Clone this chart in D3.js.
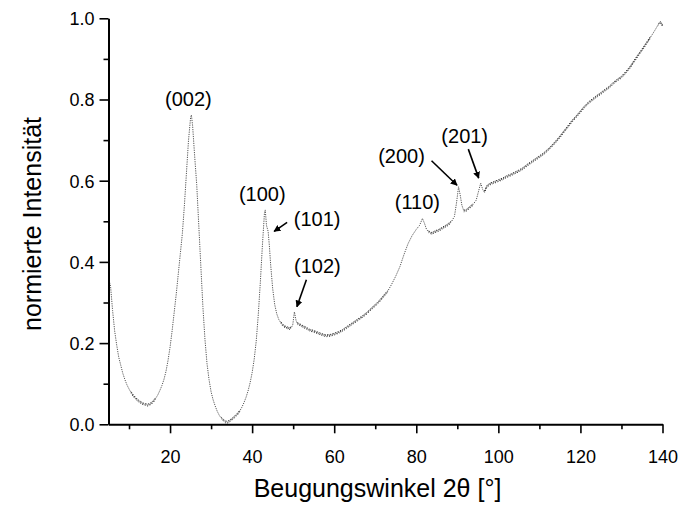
<!DOCTYPE html>
<html>
<head>
<meta charset="utf-8">
<script src="https://cdn.jsdelivr.net/npm/d3@7/dist/d3.min.js"></script>
<style>
  body { margin: 0; background: #fff; }
  text { font-family: "Liberation Sans", Arial, sans-serif; fill: #000; }
</style>
</head>
<body>
<div id="chart"></div>
<script>
// diffraction angle 2theta (deg) and normalised intensity
var angle = [
  5.0, 5.5, 6.0, 6.5, 7.0, 7.5, 8.0, 8.5, 9.0, 9.5, 10.0, 10.5, 11.0, 11.5, 12.0, 12.5, 13.0, 13.5, 14.0, 14.5,
  15.0, 15.5, 16.0, 16.5, 17.0, 17.5, 18.0, 18.5, 19.0, 19.5, 20.0, 20.5, 21.0, 21.5, 22.0, 22.5, 23.0, 23.5, 24.0, 24.5,
  25.0, 25.2, 25.5, 26.0, 26.5, 27.0, 27.5, 28.0, 28.5, 29.0, 29.5, 30.0, 30.5, 31.0, 31.5, 32.0, 32.5, 33.0, 33.5, 34.0,
  34.5, 35.0, 35.5, 36.0, 36.5, 37.0, 37.5, 38.0, 38.5, 39.0, 39.5, 40.0, 40.5, 41.0, 41.5, 42.0, 42.5, 43.0, 43.2, 43.5,
  43.9, 44.2, 44.5, 45.0, 45.5, 46.0, 46.5, 47.0, 47.5, 48.0, 48.5, 49.0, 49.5, 49.9, 50.3, 50.7, 51.0, 51.5, 52.0, 52.5,
  53.0, 53.5, 54.0, 55.0, 56.0, 57.0, 58.0, 59.0, 60.0, 61.0, 62.0, 63.0, 64.0, 65.0, 66.0, 67.0, 68.0, 69.0, 70.0, 71.0,
  72.0, 73.0, 74.0, 75.0, 76.0, 77.0, 78.0, 79.0, 80.0, 80.8, 81.5, 82.0, 82.5, 83.0, 83.8, 84.5, 85.5, 86.5, 87.5, 88.5,
  89.3, 89.8, 90.3, 90.7, 91.1, 91.6, 92.2, 93.0, 93.8, 94.6, 95.2, 95.7, 96.2, 96.6, 97.2, 98.0, 99.0, 100.0, 101.0, 102.0,
  103.0, 104.0, 105.0, 106.0, 107.0, 108.0, 109.0, 110.0, 111.0, 112.0, 113.0, 114.0, 115.0, 116.0, 117.0, 118.0, 119.0, 120.0, 121.0, 122.0,
  123.0, 124.0, 125.0, 126.0, 127.0, 128.0, 129.0, 130.0, 131.0, 132.0, 133.0, 134.0, 135.0, 136.0, 137.0, 138.0, 139.0, 139.5, 140.0
];
var intensity = [
  0.360, 0.340, 0.280, 0.230, 0.195, 0.165, 0.145, 0.125, 0.110, 0.097, 0.087, 0.078, 0.071, 0.065, 0.060, 0.056, 0.053, 0.050, 0.049, 0.047,
  0.049, 0.052, 0.057, 0.064, 0.072, 0.083, 0.095, 0.110, 0.130, 0.157, 0.190, 0.230, 0.275, 0.320, 0.370, 0.420, 0.470, 0.540, 0.620, 0.700,
  0.755, 0.762, 0.735, 0.660, 0.590, 0.490, 0.390, 0.290, 0.210, 0.150, 0.110, 0.080, 0.060, 0.045, 0.032, 0.022, 0.015, 0.010, 0.006, 0.005,
  0.008, 0.012, 0.016, 0.021, 0.026, 0.033, 0.042, 0.053, 0.066, 0.082, 0.102, 0.127, 0.160, 0.205, 0.270, 0.350, 0.440, 0.520, 0.528, 0.490,
  0.475, 0.440, 0.395, 0.335, 0.295, 0.272, 0.258, 0.250, 0.244, 0.240, 0.238, 0.236, 0.237, 0.245, 0.277, 0.256, 0.248, 0.246, 0.243, 0.240,
  0.238, 0.235, 0.232, 0.229, 0.225, 0.221, 0.218, 0.219, 0.222, 0.226, 0.231, 0.238, 0.245, 0.252, 0.259, 0.266, 0.274, 0.284, 0.293, 0.303,
  0.315, 0.327, 0.345, 0.365, 0.388, 0.418, 0.445, 0.465, 0.480, 0.490, 0.507, 0.495, 0.480, 0.474, 0.470, 0.474, 0.478, 0.484, 0.490, 0.498,
  0.512, 0.545, 0.585, 0.565, 0.540, 0.525, 0.527, 0.534, 0.541, 0.552, 0.575, 0.594, 0.578, 0.572, 0.586, 0.592, 0.596, 0.600, 0.604, 0.610,
  0.614, 0.619, 0.624, 0.630, 0.638, 0.645, 0.652, 0.659, 0.666, 0.675, 0.685, 0.696, 0.708, 0.721, 0.734, 0.747, 0.758, 0.770, 0.782, 0.792,
  0.800, 0.808, 0.815, 0.823, 0.830, 0.840, 0.848, 0.855, 0.866, 0.878, 0.893, 0.908, 0.922, 0.937, 0.952, 0.968, 0.985, 0.990, 0.982
];

// reflections (Miller indices) and where they sit in the pattern
var hkl = ["(002)", "(100)", "(101)", "(102)", "(110)", "(200)", "(201)"];
var peakAngle = [25.2, 43.2, 43.9, 50.3, 81.5, 90.3, 95.7];
var peakIntensity = [0.762, 0.528, 0.475, 0.277, 0.507, 0.585, 0.594];

var xTicks = [20, 40, 60, 80, 100, 120, 140];
var xMinor = [10, 30, 50, 70, 90, 110, 130];
var yTicks = [0, 0.2, 0.4, 0.6, 0.8, 1.0];
var yMinor = [0.1, 0.3, 0.5, 0.7, 0.9];

// label offsets (px) from each peak, plus optional arrow tail/tip offsets
var labelLayout = [
  {dx: -3, dy: -9},
  {dx: -3, dy: -9},
  {dx: 49, dy: -5, arrow: [19, -9, 6, 0]},
  {dx: 23, dy: -39, arrow: [12, -32, 2.5, -5]},
  {dx: -5, dy: -9.5},
  {dx: -57, dy: -23.5, arrow: [-27, -26, -1.5, -1.5]},
  {dx: -16, dy: -40, arrow: [-12.4, -34, -2, -5]}
];

var W = 682, H = 506;
var margin = {top: 18.3, right: 19.5, bottom: 81.7, left: 108.5},
    width = W - margin.left - margin.right,
    height = H - margin.top - margin.bottom;

var svg = d3.select("#chart")
  .append("svg")
    .attr("width", W)
    .attr("height", H)
  .append("g")
    .attr("transform", "translate(" + margin.left + "," + margin.top + ")");

var x = d3.scaleLinear().domain([5, 140]).range([0, width]);
var y = d3.scaleLinear().domain([0, 1]).range([height, 0]);

var points = angle.map(function(a, i) { return [a, intensity[i]]; });

// pixel slope around each point: steep flanks have few counts per pixel,
// flat stretches pile up into a darker grainy band
var flat = points.map(function(d, i) {
  var a = points[Math.max(i - 1, 0)], b = points[Math.min(i + 1, points.length - 1)];
  var s = Math.abs((y(b[1]) - y(a[1])) / (x(b[0]) - x(a[0])));
  return s < 1.6;
});

var line = d3.line()
    .x(function(d) { return x(d[0]); })
    .y(function(d) { return y(d[1]); });

// measured pattern, drawn as a fine dotted trace
svg.append("path")
    .datum(points)
    .attr("fill", "none")
    .attr("stroke", "#555")
    .attr("stroke-width", 1)
    .attr("stroke-dasharray", "1.2,1.1")
    .attr("d", line);

// grainy overlay on the flat parts
[-0.9, 0.9].forEach(function(off, k) {
  var band = d3.line()
      .defined(function(d, i) { return flat[i]; })
      .x(function(d) { return x(d[0]); })
      .y(function(d) { return y(d[1]) + off; });
  svg.append("path")
      .datum(points)
      .attr("fill", "none")
      .attr("stroke", "#333")
      .attr("stroke-width", 1)
      .attr("stroke-dasharray", k ? "1,1.7" : "1.4,1.3")
      .attr("stroke-dashoffset", k ? 0.6 : 0)
      .attr("d", band);
});

// axes
svg.append("g")
    .attr("transform", "translate(0," + height + ")")
    .call(d3.axisBottom(x).tickValues(xTicks).tickSize(9).tickSizeOuter(0).tickPadding(17));
svg.append("g")
    .attr("transform", "translate(0," + height + ")")
    .call(d3.axisBottom(x).tickValues(xMinor).tickSize(5).tickFormat(""))
    .select(".domain").remove();

var yAxis = svg.append("g")
    .call(d3.axisLeft(y).tickValues(yTicks).tickSize(9).tickSizeOuter(0).tickPadding(5)
      .tickFormat(d3.format(".1f")));
svg.append("g")
    .call(d3.axisLeft(y).tickValues(yMinor).tickSize(5).tickFormat(""))
    .select(".domain").remove();

svg.selectAll(".domain").attr("stroke", "#000").attr("stroke-width", 2);
svg.selectAll(".tick line").attr("stroke", "#000").attr("stroke-width", 1.6);
svg.selectAll(".tick text")
    .style("font-size", "18px")
    .style("font-family", "'Liberation Sans', Arial, sans-serif")
    .attr("fill", "#000");
yAxis.selectAll(".tick text").attr("dy", "0.36em");

// axis titles
svg.append("text")
    .attr("x", width / 2 - 8)
    .attr("y", height + 73)
    .attr("text-anchor", "middle")
    .style("font-size", "25px")
    .text("Beugungswinkel 2θ [°]");

svg.append("text")
    .attr("transform", "translate(" + (41 - margin.left) + "," + (224 - margin.top) + ") rotate(-90)")
    .attr("text-anchor", "middle")
    .style("font-size", "25px")
    .text("normierte Intensität");

// arrow head
svg.append("defs").append("marker")
    .attr("id", "head")
    .attr("viewBox", "0 0 10 10")
    .attr("refX", 9).attr("refY", 5)
    .attr("markerWidth", 7).attr("markerHeight", 7)
    .attr("markerUnits", "userSpaceOnUse")
    .attr("orient", "auto")
  .append("path")
    .attr("d", "M0,0L10,5L0,10z")
    .attr("fill", "#000");

// reflection labels
hkl.forEach(function(label, i) {
  var px = x(peakAngle[i]), py = y(peakIntensity[i]), l = labelLayout[i];
  svg.append("text")
      .attr("x", px + l.dx)
      .attr("y", py + l.dy)
      .attr("text-anchor", "middle")
      .style("font-size", "20px")
      .text(label);
  if (l.arrow) {
    svg.append("line")
        .attr("x1", px + l.arrow[0]).attr("y1", py + l.arrow[1])
        .attr("x2", px + l.arrow[2]).attr("y2", py + l.arrow[3])
        .attr("stroke", "#000")
        .attr("stroke-width", 1.6)
        .attr("marker-end", "url(#head)");
  }
});
</script>
</body>
</html>
